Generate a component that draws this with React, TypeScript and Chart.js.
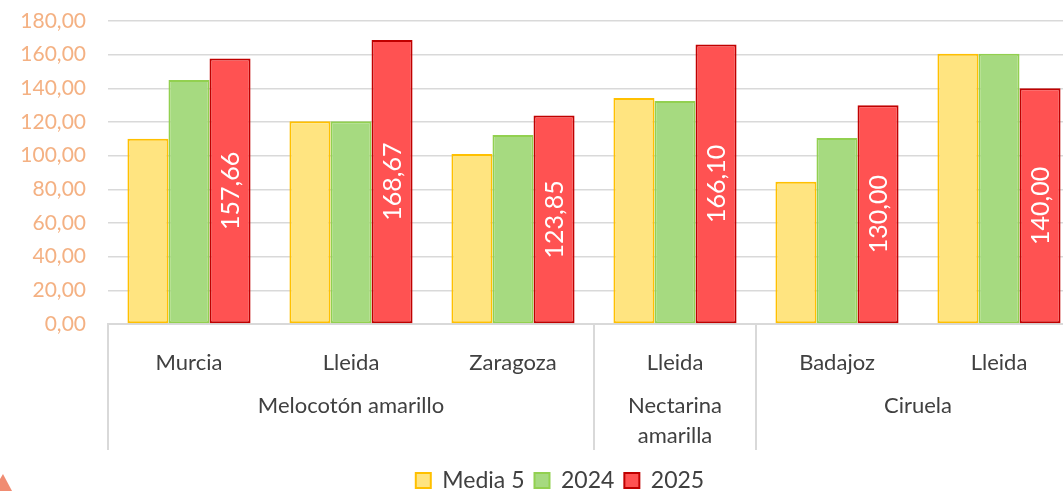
import React, { useEffect, useRef } from "react";
import { Chart, registerables } from "chart.js";

Chart.register(...registerables);

const categories = ["Murcia", "Lleida", "Zaragoza", "Lleida", "Badajoz", "Lleida"];
const groupLabels = [["Melocotón amarillo"], ["Nectarina", "amarilla"], ["Ciruela"]];
const groupStarts = [0, 3, 4];
const groupEnds = [2, 3, 5];

const media5 = [110.0, 120.5, 101.0, 134.3, 84.5, 160.5];
const y2024 = [145.0, 120.5, 112.3, 132.5, 110.5, 160.5];
const y2025 = [157.66, 168.67, 123.85, 166.1, 130.0, 140.0];

const yTicks = [0, 20, 40, 60, 80, 100, 120, 140, 160, 180];

const FONT = 'Lato, "Open Sans", sans-serif';
const fmt = (v: number) => v.toFixed(2).replace(".", ",");

const groupPlugin = {
  id: "groupPlugin",
  afterDraw(chart: any) {
    const ctx = chart.ctx;
    const xs = chart.scales.x;
    const top = xs.top;
    const half = (xs.getPixelForValue(1) - xs.getPixelForValue(0)) / 2;
    ctx.save();
    ctx.strokeStyle = "#D9D9D9";
    ctx.lineWidth = 2;
    const bounds: number[] = [];
    groupStarts.forEach((s) => bounds.push(xs.getPixelForValue(s) - half));
    bounds.push(xs.getPixelForValue(groupEnds[groupEnds.length - 1]) + half);
    bounds.forEach((bx) => {
      ctx.beginPath();
      ctx.moveTo(Math.round(bx), top);
      ctx.lineTo(Math.round(bx), top + 126);
      ctx.stroke();
    });
    ctx.fillStyle = "#404040";
    ctx.font = `22px ${FONT}`;
    ctx.textAlign = "center";
    ctx.textBaseline = "alphabetic";
    groupLabels.forEach((lines, i) => {
      const cx = (xs.getPixelForValue(groupStarts[i]) + xs.getPixelForValue(groupEnds[i])) / 2;
      lines.forEach((ln, j) => {
        ctx.fillText(ln, cx, top + 89 + j * 30);
      });
    });
    ctx.restore();
  },
};

const labelPlugin = {
  id: "labelPlugin",
  afterDatasetsDraw(chart: any) {
    const ctx = chart.ctx;
    const meta = chart.getDatasetMeta(2);
    ctx.save();
    ctx.fillStyle = "#FFFFFF";
    ctx.font = `25px ${FONT}`;
    ctx.textAlign = "center";
    ctx.textBaseline = "middle";
    meta.data.forEach((bar: any, i: number) => {
      const p = bar.getProps(["x", "y", "base"], true);
      const cy = (p.y + p.base) / 2;
      ctx.save();
      ctx.translate(p.x, cy);
      ctx.rotate(-Math.PI / 2);
      ctx.fillText(fmt(y2025[i]), 0, 1);
      ctx.restore();
    });
    ctx.restore();
  },
};

export default function App() {
  const ref = useRef<HTMLCanvasElement | null>(null);
  useEffect(() => {
    if (!ref.current) return;
    Chart.defaults.font.family = FONT;
    const chart = new Chart(ref.current, {
      type: "bar",
      data: {
        labels: categories,
        datasets: [
          {
            label: "Media 5",
            data: media5,
            backgroundColor: "#FFE480",
            borderColor: "#FFC000",
            borderWidth: 2,
            borderSkipped: false,
          },
          {
            label: "2024",
            data: y2024,
            backgroundColor: "#A6DA80",
            borderColor: "#92D050",
            borderWidth: 2,
            borderSkipped: false,
          },
          {
            label: "2025",
            data: y2025,
            backgroundColor: "#FF5252",
            borderColor: "#C00000",
            borderWidth: 2,
            borderSkipped: false,
          },
        ],
      },
      options: {
        responsive: false,
        animation: false,
        devicePixelRatio: 1,
        layout: { padding: { top: 21, left: 0, right: 0, bottom: 0 } },
        datasets: { bar: { categoryPercentage: 0.76, barPercentage: 1 } },
        plugins: {
          tooltip: { enabled: false },
          legend: {
            position: "bottom",
            labels: {
              boxWidth: 15,
              boxHeight: 15,
              padding: 10,
              color: "#404040",
              font: { size: 23, family: FONT },
            },
          },
        },
        scales: {
          x: {
            grid: { display: false },
            border: { display: true, color: "#D9D9D9", width: 2 },
            ticks: {
              color: "#404040",
              font: { size: 22, family: FONT },
              padding: 18,
              maxRotation: 0,
              autoSkip: false,
            },
            afterFit: (s: any) => {
              s.height = 135;
            },
          },
          y: {
            min: 0,
            max: 180,
            afterBuildTicks: (s: any) => {
              s.ticks = yTicks.map((v) => ({ value: v }));
            },
            grid: {
              color: "#D9D9D9",
              lineWidth: 1.5,
              drawTicks: true,
              tickLength: 22,
              tickColor: "rgba(0,0,0,0)",
            },
            border: { display: false },
            ticks: {
              color: "#F4B183",
              font: { size: 21, family: FONT },
              padding: 0,
              callback: (v: any) => fmt(Number(v)),
            },
            afterFit: (s: any) => {
              s.width = 108;
            },
          },
          yR: {
            position: "right",
            display: true,
            min: 0,
            max: 180,
            grid: { display: false },
            border: { display: false },
            ticks: { display: false },
            afterFit: (s: any) => {
              s.width = 40;
            },
          },
        },
      },
      plugins: [groupPlugin, labelPlugin],
    } as any);
    return () => chart.destroy();
  }, []);

  return (
    <div
      style={{
        position: "fixed",
        left: 0,
        top: 0,
        width: 1063,
        height: 491,
        overflow: "hidden",
        background: "#FFFFFF",
      }}
    >
      <canvas ref={ref} width={1120} height={502} style={{ display: "block" }} />
      <div
        style={{
          position: "absolute",
          left: 0,
          top: 474,
          width: 12,
          height: 17,
          background: "#F08C72",
          clipPath: "polygon(0% 30%, 25% 0%, 100% 100%, 0% 100%)",
        }}
      />
    </div>
  );
}
